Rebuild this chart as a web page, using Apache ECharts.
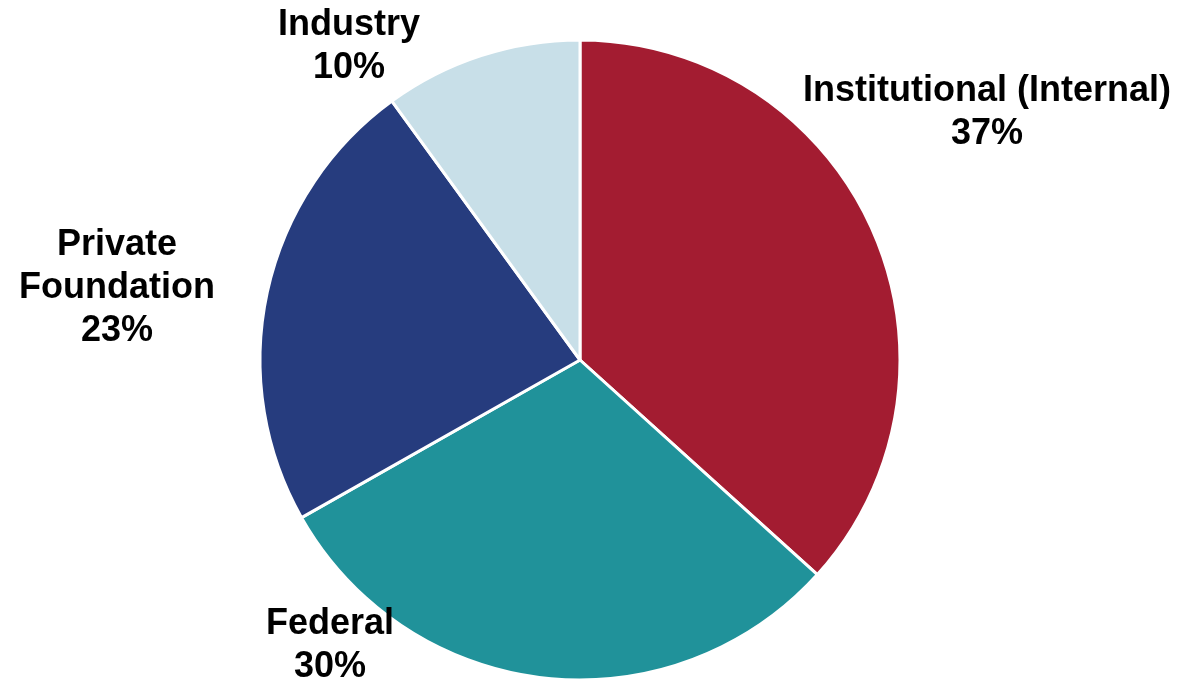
<!DOCTYPE html>
<html>
<head>
<meta charset="utf-8">
<script src="https://cdn.jsdelivr.net/npm/echarts@6/dist/echarts.min.js"></script>
<style>
  html, body { margin: 0; padding: 0; background: #fff; }
  #pie { width: 1183px; height: 685px; }
</style>
</head>
<body>
<div id="pie"></div>
<script>
var names = ['Institutional (Internal)', 'Federal', 'Private\nFoundation', 'Industry'];
var values = [36.7, 30.1, 23.2, 10.0];
var colors = ['#A31C31', '#20929A', '#263C7E', '#C8DFE8'];
// label centres
var labelPos = [[987, 113], [330, 646], [117, 288], [349, 47]];

var data = names.map(function (n, i) {
  return { name: n, value: values[i], itemStyle: { color: colors[i] } };
});

var myChart = echarts.init(document.getElementById('pie'));
var option = {
  animation: false,
  series: [{
    type: 'pie',
    center: [580, 360],
    radius: 320,
    startAngle: 90,
    clockwise: true,
    data: data,
    itemStyle: { borderColor: '#fff', borderWidth: 3 },
    label: {
      show: true,
      position: 'outside',
      formatter: function (p) {
        return p.name + '\n' + Math.round(p.percent) + '%';
      },
      fontFamily: 'Liberation Sans, Arial, sans-serif',
      fontWeight: 'bold',
      fontSize: 36,
      lineHeight: 43,
      color: '#000',
      align: 'center',
      width: 500,
      overflow: 'none'
    },
    labelLine: { show: false },
    labelLayout: function (params) {
      var p = labelPos[params.dataIndex];
      return { x: p[0], y: p[1], align: 'center', verticalAlign: 'middle' };
    }
  }]
};
myChart.setOption(option, true);
</script>
</body>
</html>
